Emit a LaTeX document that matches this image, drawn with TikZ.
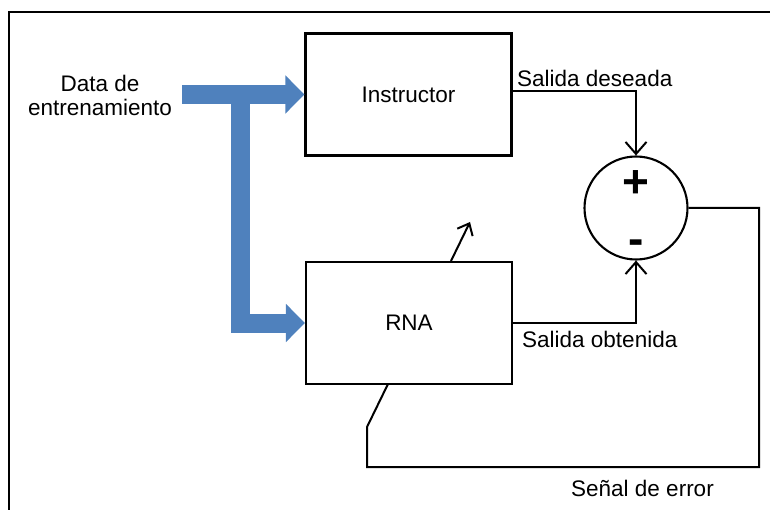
\documentclass[tikz,border=0pt]{standalone}
\usepackage{fontspec}
\setmainfont{Liberation Sans}
\usetikzlibrary{arrows.meta,calc}
\definecolor{flowblue}{HTML}{4F81BD}
\begin{document}
\begin{tikzpicture}[x=1pt,y=-1pt,
  box/.style={draw,line width=2.1pt,minimum width=206pt,minimum height=122pt,inner sep=0pt,font=\fontsize{22.5}{27}\selectfont},
  lbl/.style={inner sep=0pt,font=\fontsize{22.5}{24}\selectfont},
  sign/.style={inner sep=0pt,font=\fontsize{46}{46}\bfseries\selectfont},
  wire/.style={line width=2pt,line join=miter},
  warrow/.style={wire,-{Straight Barb[length=12pt,width=21pt]}},
  fat/.style={line width=19pt,draw=flowblue,line join=miter,-{Triangle[length=19pt,width=37pt]}}
]
\useasboundingbox (0,0) rectangle (770,510);
% frame
\draw[line width=2pt] (9,510) -- (9,12) -- (770,12);

% blocks
\node[box] (inst) at (408.5,94.5) {Instructor};
\node[box] (rna) at (409,323) {RNA};
\node[draw,circle,line width=2.1pt,minimum size=103pt,inner sep=0pt] (sum) at (636,208) {};
\node[sign] (plus) at (636,184) {+};
\node[sign] (minus) at (636,247) {-};

% labels
\node[lbl,align=center] (data) at (100,95) {Data de\\entrenamiento};
\node[lbl,anchor=base west] (sd) at (517,87) {Salida deseada};
\node[lbl,anchor=base west] (so) at (522,347) {Salida obtenida};
\node[lbl,anchor=base west] (se) at (571,496) {Señal de error};

% blue data arrows
\coordinate (dstart) at (182,94.5);
\coordinate (dbranch) at (240,94.5);
\draw[fat] (dstart) -- (inst.west);
\draw[fat] (dbranch) |- (rna.west);

% signal paths
\draw[warrow] ([yshift=3pt]inst.east) -| (sum.north);
\draw[warrow] (rna.east) -| (sum.south);

% error feedback
\coordinate (fbR) at (759,467);
\coordinate (fbL) at (367,467);
\coordinate (fbK) at (367,427);
\coordinate (fbE) at (388,384);
\draw[wire] (sum.east) -| (fbR) -- (fbL) -- (fbK) -- (fbE);

% weight adjust arrow
\coordinate (wtip) at (470,222);
\draw[wire,-{Straight Barb[length=10pt,width=17pt]}] ([xshift=42pt]rna.north) -- (wtip);
\end{tikzpicture}
\end{document}
